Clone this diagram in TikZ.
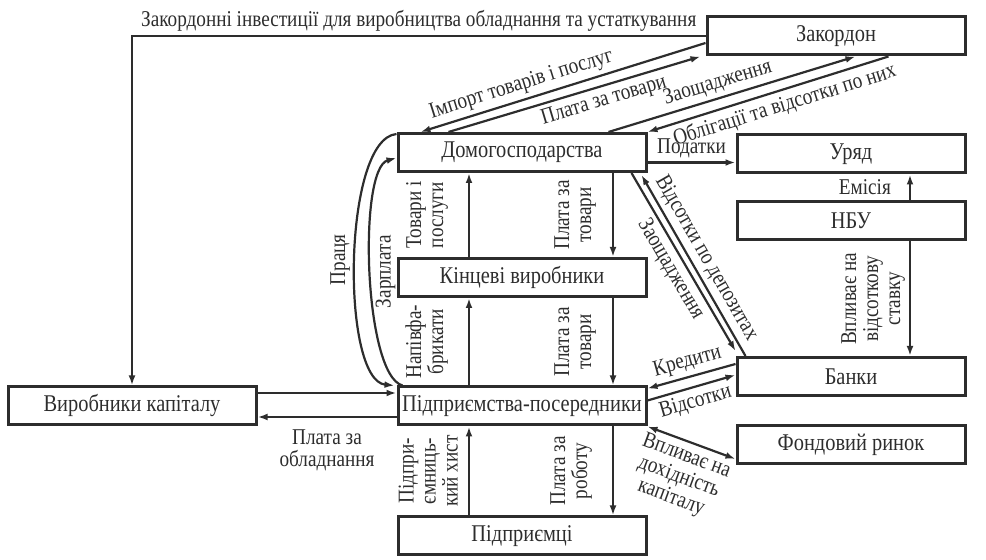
\documentclass[tikz,border=0pt]{standalone}
\usepackage{fontspec}
\setmainfont[FakeStretch=0.85]{Liberation Serif}
\usetikzlibrary{arrows.meta}
\definecolor{ink}{RGB}{45,45,45}
\tikzset{
  box/.style={draw=ink, line width=1.5pt, minimum width=124pt, minimum height=19pt,
    inner sep=0pt, text=ink, font=\fontsize{12}{13}\selectfont},
  lbl/.style={text=ink, font=\fontsize{11.3}{11}\selectfont, inner sep=2pt},
  flow/.style={draw=ink, line width=1.1pt, ->},
}
\begin{document}
\begin{tikzpicture}[x=0.5pt, y=-0.5pt, >={Latex[length=5pt,width=3.4pt]}]
\useasboundingbox (0,0) rectangle (986,560);
\node[box, minimum width=129pt] (zak) at (836,36) {Закордон};
\node[box] (dom) at (522,152.5) {Домогосподарства};
\node[box, minimum width=114pt] (ur) at (851,154) {Уряд};
\node[box, minimum width=114pt] (nbu) at (851,221) {НБУ};
\node[box] (kv) at (522,277.5) {Кінцеві виробники};
\node[box, minimum width=114pt] (bank) at (851,376.5) {Банки};
\node[box] (pp) at (522,406) {Підприємства-посередники};
\node[box, minimum width=114pt] (fr) at (851,444.5) {Фондовий ринок};
\node[box] (vk) at (132,406) {Виробники капіталу};
\node[box] (pidpr) at (522,536) {Підприємці};

\draw[flow] (zak.west) -| node[lbl, pos=0.25, above] {Закордонні інвестиції для виробництва обладнання та устаткування} (vk.north);
\draw[flow,<-] ([xshift=12pt]dom.north west) -- node[lbl, pos=0.37, above, sloped] {Імпорт товарів і послуг} ([yshift=-3.5pt]zak.west);
\draw[flow] ([xshift=26pt]dom.north west) -- node[lbl, pos=0.6, below, sloped] {Плата за товари} ([xshift=-2.5pt]zak.south west);
\draw[flow] ([xshift=106pt]dom.north west) -- node[lbl, pos=0.46, above, sloped] {Заощадження} ([xshift=75pt]zak.south west);
\draw[flow,<-] (dom.north east) -- node[lbl, pos=0.55, below, sloped] {Облігації та відсотки по них} ([xshift=91.5pt]zak.south west);

\draw[flow] ([xshift=-26.5pt]kv.north) -- node[lbl, midway, above, xshift=-8pt, rotate=90, align=center] {Товари і\\послуги} ([xshift=-26.5pt]dom.south);
\draw[flow] ([xshift=45.5pt]dom.south) -- node[lbl, midway, above, xshift=-6pt, rotate=90, align=center] {Плата за\\товари} ([xshift=45.5pt]kv.north);
\draw[flow] ([xshift=-26.5pt]pp.north) -- node[lbl, midway, above, xshift=-8pt, rotate=90, align=center] {Напівфа-\\брикати} ([xshift=-26.5pt]kv.south);
\draw[flow] ([xshift=45.5pt]kv.south) -- node[lbl, midway, above, xshift=-6pt, rotate=90, align=center] {Плата за\\товари} ([xshift=45.5pt]pp.north);
\draw[flow] ([xshift=-26.5pt]pidpr.north) -- node[lbl, midway, above, xshift=-3pt, rotate=90, align=center] {Підпри-\\ємниць-\\кий хист} ([xshift=-26.5pt]pp.south);
\draw[flow] ([xshift=45.5pt]pp.south) -- node[lbl, midway, above, xshift=-8pt, rotate=90, align=center] {Плата за\\роботу} ([xshift=45.5pt]pidpr.north);

\draw[flow] ([yshift=-1pt]dom.north west) to[out=185, in=175, looseness=0.55] node[lbl, midway, above, rotate=90] {Праця} ([xshift=-1pt]pp.north west);
\draw[flow] ([xshift=3pt]pp.north west) to[out=165, in=195, looseness=0.45] node[lbl, midway, below, rotate=90] {Зарплата} ([yshift=-2.75pt]dom.west);

\draw[flow] ([yshift=6.5pt]vk.east) -- ([yshift=6.5pt]pp.west);
\draw[flow] ([yshift=-5.5pt]pp.west) -- node[lbl, midway, below=4pt, align=center] {Плата за\\обладнання} ([yshift=-5.5pt]vk.east);

\draw[flow] ([yshift=-5pt]dom.east) -- node[lbl, midway, above] {Податки} ([yshift=-5pt]dom.east -| ur.west);
\draw[flow] ([xshift=29.5pt]nbu.north) -- node[lbl, midway, left=7pt] {Емісія} ([xshift=29.5pt]ur.south);
\draw[flow] ([xshift=29.5pt]nbu.south) -- node[lbl, midway, above, rotate=90, align=center] {Впливає на\\відсоткову\\ставку} ([xshift=29.5pt]bank.north);

\draw[flow] ([xshift=-8pt]dom.south east) -- node[lbl, midway, below, sloped] {Заощадження} ([yshift=2.5pt]bank.north west);
\draw[flow,<-] ([xshift=-3pt,yshift=-1pt]dom.south east) -- node[lbl, midway, above, sloped] {Відсотки по депозитах} ([xshift=5pt]bank.north west);
\draw[flow,<-] ([yshift=-1.5pt]pp.north east) -- node[lbl, midway, above, sloped] {Кредити} ([yshift=-4pt]bank.north west);
\draw[flow] ([yshift=-7.5pt]pp.north east) -- node[lbl, midway, below, sloped] {Відсотки} ([yshift=-9.5pt]bank.north west);
\draw[flow,<->] (pp.south east) -- node[lbl, midway, below, sloped, align=center] {Впливає на\\дохідність\\капіталу} ([yshift=3pt]fr.south west);
\end{tikzpicture}
\end{document}
